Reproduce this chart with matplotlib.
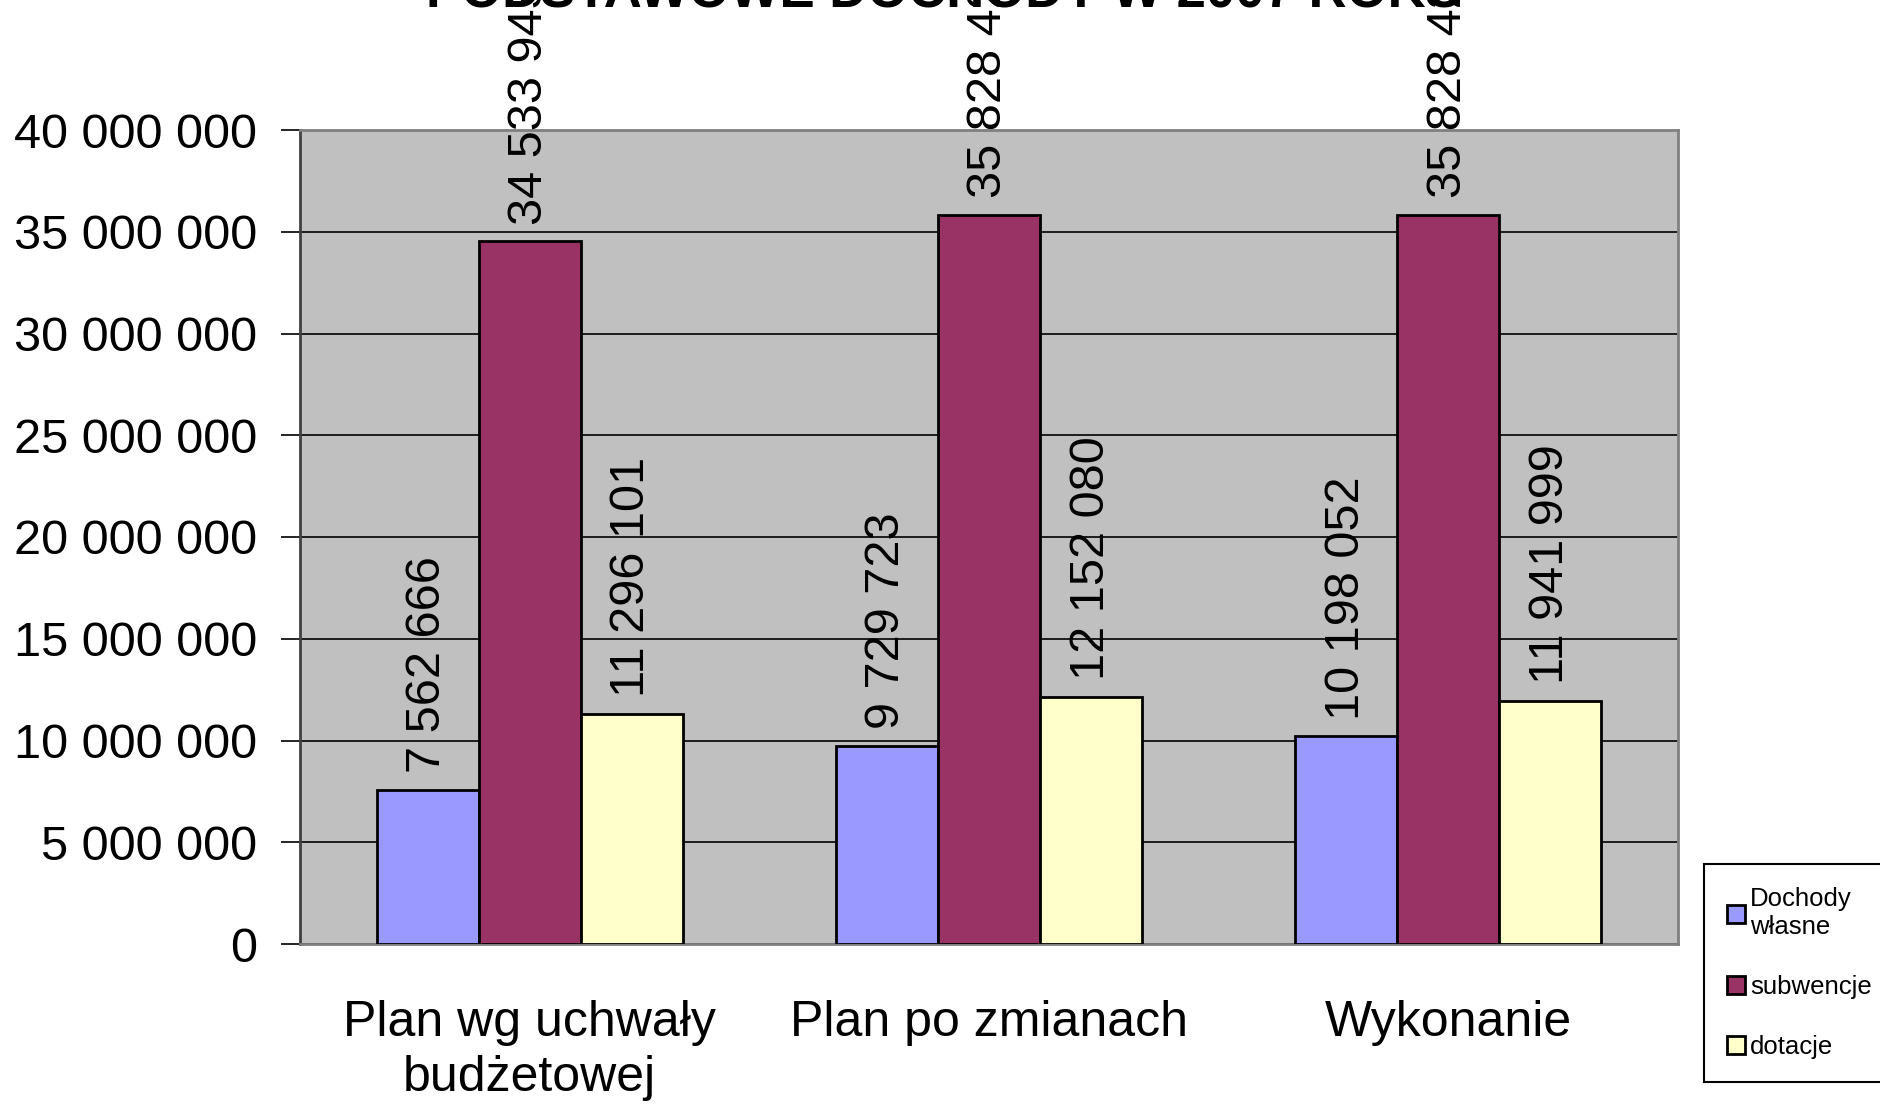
import numpy as np
import matplotlib.pyplot as plt
from matplotlib.patches import Patch

categories = ['Plan wg uchwały\nbudżetowej', 'Plan po zmianach', 'Wykonanie']
series_names = ['Dochody\nwłasne', 'subwencje', 'dotacje']
dochody_wlasne = [7562666, 9729723, 10198052]
subwencje = [34533945, 35828425, 35828425]
dotacje = [11296101, 12152080, 11941999]
colors = ['#9999FF', '#993366', '#FFFFCC']
yticks = [0, 5000000, 10000000, 15000000, 20000000, 25000000, 30000000, 35000000, 40000000]

plt.rcParams['font.family'] = ['Liberation Sans', 'DejaVu Sans']


def fmt(v):
    return f"{v:,}".replace(',', ' ')


fig = plt.figure(figsize=(18.81, 11.04), dpi=100)
ax = fig.add_axes([300/1881, 1-944/1104, 1378/1881, 814/1104])
ax.set_facecolor('#C0C0C0')

x = np.arange(len(categories))
w = 0.2222
for i, vals in enumerate([dochody_wlasne, subwencje, dotacje]):
    pos = x + (i - 1) * w
    ax.bar(pos, vals, width=w, color=colors[i], edgecolor='black', linewidth=2, zorder=3)
    for p, v in zip(pos, vals):
        ax.annotate(fmt(v), (p, v), xytext=(0, 12), textcoords='offset points',
                    rotation=90, ha='center', va='bottom', fontsize=35,
                    annotation_clip=False, zorder=4)

ax.set_xlim(-0.5, 2.5)
ax.set_ylim(0, 40000000)
ax.set_yticks(yticks)
ax.set_yticklabels([fmt(v) for v in yticks], fontsize=35)
ax.yaxis.grid(True, color='black', linewidth=1.2, zorder=1)
ax.tick_params(axis='y', length=14, width=1.2, pad=17, direction='out')
ax.set_xticks(x)
ax.set_xticklabels(categories, fontsize=36, linespacing=1.25)
ax.tick_params(axis='x', length=0, pad=40)

ax.spines['left'].set_color('#404040')
ax.spines['left'].set_linewidth(2)
for s in ['top', 'right', 'bottom']:
    ax.spines[s].set_color('#808080')
    ax.spines[s].set_linewidth(2)

fig.text(945/1881, 1-8/1104, 'PODSTAWOWE DOCHODY W 2007 ROKU', ha='center',
         va='baseline', fontsize=38, fontweight='bold')

handles = [Patch(facecolor=c, edgecolor='black', linewidth=2) for c in colors]
leg = fig.legend(handles, series_names, loc='upper left',
                 bbox_to_anchor=(1704/1881, 1-864/1104), fontsize=18.5,
                 frameon=True, fancybox=False, framealpha=1, edgecolor='black',
                 handlelength=0.7, handleheight=0.7, handletextpad=0.2,
                 labelspacing=1.4, borderpad=0.9, borderaxespad=0)
leg.get_frame().set_linewidth(1.5)

fig.savefig('out.png', dpi=100)
